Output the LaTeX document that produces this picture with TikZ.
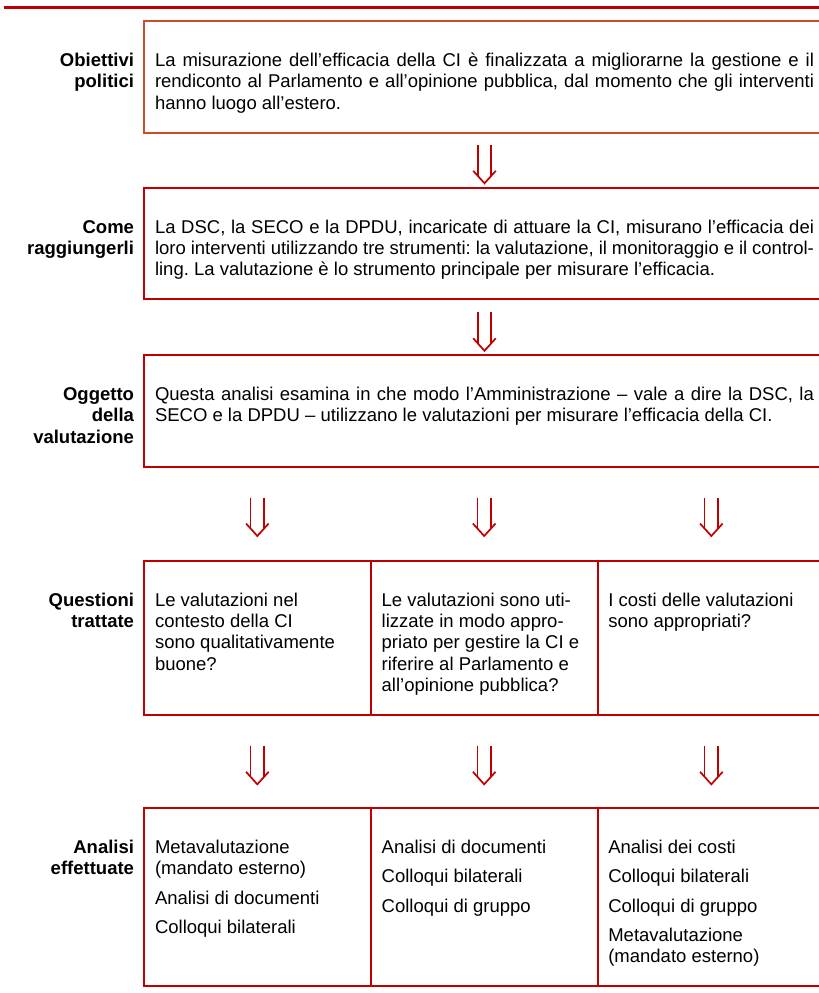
\documentclass[tikz,border=0pt]{standalone}
\usepackage{fontspec}
\setmainfont{Liberation Sans}
\usetikzlibrary{calc}
\definecolor{dred}{RGB}{192,0,0}
\definecolor{ored}{RGB}{203,76,46}
\frenchspacing
\newcommand{\bodyfnt}{\fontsize{18.5}{21.3}\selectfont\frenchspacing}
\newcommand{\jl}[1]{\makebox[659pt][s]{#1}}
\newcommand{\bodytext}[2]{\parbox[t]{#1}{\bodyfnt\raggedright #2}}
\newcommand{\justtext}[1]{\parbox[t]{659pt}{\bodyfnt #1}}
\newcommand{\lbltext}[1]{\parbox[t]{130pt}{\bodyfnt\raggedleft\bfseries #1}}
\newcommand{\dblarrow}[2]{%
  \draw[arr] ($(#1)+(-6.8,0)$) -- ($(#2)+(-6.8,-7.3)$);
  \draw[arr] ($(#1)+(6.8,0)$) -- ($(#2)+(6.8,-7.3)$);
  \draw[arr, line join=miter] ($(#2)+(-11.3,-12.5)$) -- (#2) -- ($(#2)+(11.3,-12.5)$);}
\begin{document}
\begin{tikzpicture}[x=1pt,y=-1pt,
  every node/.style={inner sep=0pt, outer sep=0pt},
  frame/.style={draw=dred, line width=2pt, anchor=north west, minimum height=#1},
  lbl/.style={anchor=base east},
  txt/.style={anchor=base west},
  arr/.style={draw=dred, line width=1.7pt}]
\useasboundingbox (0,0) rectangle (819,993);
% top rule
\coordinate (rl) at (4,7.5);
\coordinate (rr) at (830,7.5);
\draw[dred, line width=2.5pt] (rl) -- (rr);

% frames
\node[frame=111.5pt, draw=ored, minimum width=681pt] (b1) at (144,21) {};
\node[frame=111.5pt, minimum width=681pt] (b2) at (144,187.5) {};
\node[frame=111.5pt, minimum width=681pt] (b3) at (144,355) {};
\node[frame=154pt, minimum width=226.7pt] (b4a) at (144,560.7) {};
\node[frame=154pt, minimum width=227pt] (b4b) at (370.7,560.7) {};
\node[frame=154pt, minimum width=227.3pt] (b4c) at (597.7,560.7) {};
\node[frame=178.3pt, minimum width=226.7pt] (b5a) at (144,807.7) {};
\node[frame=178.3pt, minimum width=227pt] (b5b) at (370.7,807.7) {};
\node[frame=178.3pt, minimum width=227.3pt] (b5c) at (597.7,807.7) {};

% labels
\node[lbl] (l1) at ($(b1.north west)+(-10,45.5)$) {\lbltext{Obiettivi\\politici}};
\node[lbl] (l2) at ($(b2.north west)+(-10,45.5)$) {\lbltext{Come\\raggiungerli}};
\node[lbl] (l3) at ($(b3.north west)+(-10,45.5)$) {\lbltext{Oggetto\\della\\valutazione}};
\node[lbl] (l4) at ($(b4a.north west)+(-10,45.5)$) {\lbltext{Questioni\\trattate}};
\node[lbl] (l5) at ($(b5a.north west)+(-10,45.5)$) {\lbltext{Analisi\\effettuate}};

% body texts
\node[txt] (t1) at ($(b1.north west)+(11,45.5)$) {\justtext{%
\jl{La misurazione dell’efficacia della CI è finalizzata a migliorarne la gestione e il}\\
\jl{rendiconto al Parlamento e all’opinione pubblica, dal momento che gli interventi}\\
hanno luogo all’estero.}};
\node[txt] (t2) at ($(b2.north west)+(11,45.5)$) {\justtext{%
\jl{La DSC, la SECO e la DPDU, incaricate di attuare la CI, misurano l’efficacia dei}\\
\jl{loro interventi utilizzando tre strumenti: la valutazione, il monitoraggio e il control-}\\
ling. La valutazione è lo strumento principale per misurare l’efficacia.}};
\node[txt] (t3) at ($(b3.north west)+(11,45.5)$) {\justtext{%
\jl{Questa analisi esamina in che modo l’Amministrazione – vale a dire la DSC, la}\\
SECO e la DPDU – utilizzano le valutazioni per misurare l’efficacia della CI.}};

\node[txt] (t4a) at ($(b4a.north west)+(11,45.5)$) {\bodytext{210pt}{Le valutazioni nel\\contesto della CI\\sono qualitativamente\\buone?}};
\node[txt] (t4b) at ($(b4b.north west)+(11,45.5)$) {\bodytext{210pt}{Le valutazioni sono uti-\\lizzate in modo appro-\\priato per gestire la CI e\\riferire al Parlamento e\\all’opinione pubblica?}};
\node[txt] (t4c) at ($(b4c.north west)+(10.6,45.5)$) {\bodytext{210pt}{I costi delle valutazioni\\sono appropriati?}};

\node[txt] (t5a) at ($(b5a.north west)+(11,45.8)$) {\bodytext{210pt}{Metavalutazione\\(mandato esterno)\\[8pt]Analisi di documenti\\[8pt]Colloqui bilaterali}};
\node[txt] (t5b) at ($(b5b.north west)+(11,45.8)$) {\bodytext{210pt}{Analisi di documenti\\[8pt]Colloqui bilaterali\\[8pt]Colloqui di gruppo}};
\node[txt] (t5c) at ($(b5c.north west)+(10.6,45.8)$) {\bodytext{210pt}{Analisi dei costi\\[8pt]Colloqui bilaterali\\[8pt]Colloqui di gruppo\\[8pt]Metavalutazione\\(mandato esterno)}};

% arrows
\coordinate (a1t) at ($(b1.south)+(0,12.5)$);
\coordinate (a1h) at ($(b2.north)+(0,-4.2)$);
\coordinate (a2t) at ($(b2.south)+(0,12.5)$);
\coordinate (a2h) at ($(b3.north)+(0,-4.2)$);
\dblarrow{a1t}{a1h}
\dblarrow{a2t}{a2h}
\foreach \c in {a,b,c}{
  \coordinate (p3\c) at (b3.south -| b4\c.north);
  \coordinate (a3\c t) at ($(p3\c)+(0,31)$);
  \coordinate (a3\c h) at ($(b4\c.north)+(0,-24.7)$);
  \dblarrow{a3\c t}{a3\c h}
  \coordinate (p4\c) at (b4\c.south);
  \coordinate (a4\c t) at ($(p4\c)+(0,31)$);
  \coordinate (a4\c h) at ($(b5\c.north)+(0,-23.4)$);
  \dblarrow{a4\c t}{a4\c h}
}
\end{tikzpicture}
\end{document}
